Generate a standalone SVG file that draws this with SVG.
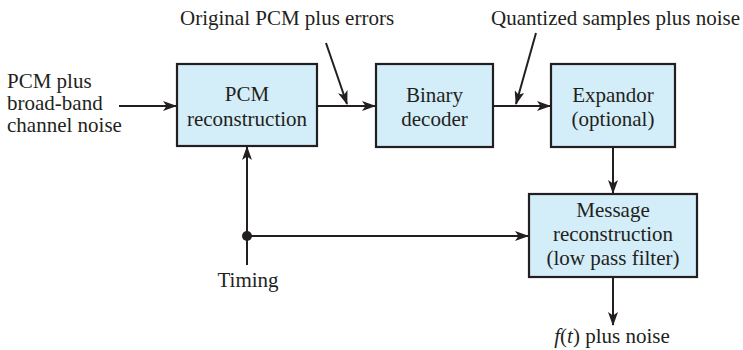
<svg xmlns="http://www.w3.org/2000/svg" width="743" height="350" viewBox="0 0 743 350">
<style>
text{font-family:"Liberation Serif","Times New Roman",serif;font-size:21px;fill:#231f20}
.box{fill:#d3edf9;stroke:#231f20;stroke-width:2.2}
.c{text-anchor:middle}
.ln{stroke:#231f20;stroke-width:2;fill:none}
</style>
<defs>
<marker id="ah" viewBox="0 0 14 10" refX="13" refY="5" markerWidth="14" markerHeight="10" markerUnits="userSpaceOnUse" orient="auto">
<path d="M0,0 L14,5 L0,10 L3.5,5 Z" fill="#231f20"/>
</marker>
</defs>
<rect width="743" height="350" fill="#fff"/>
<g id="labels">
<text x="7" y="88">PCM plus</text>
<text x="7" y="110">broad-band</text>
<text x="7" y="132">channel noise</text>
<text x="180" y="25">Original PCM plus errors</text>
<text x="491" y="25">Quantized samples plus noise</text>
<text class="c" x="248" y="287">Timing</text>
<text class="c" x="612" y="343"><tspan font-style="italic">f</tspan>(<tspan font-style="italic">t</tspan>) plus noise</text>
</g>
<g id="pcm">
<rect class="box" x="177" y="64" width="140" height="82"/>
<text class="c" x="247" y="101">PCM</text>
<text class="c" x="247" y="126">reconstruction</text>
</g>
<g id="binary">
<rect class="box" x="376" y="64" width="117" height="83"/>
<text class="c" x="434.5" y="102">Binary</text>
<text class="c" x="434.5" y="126">decoder</text>
</g>
<g id="expandor">
<rect class="box" x="551" y="64" width="124" height="83"/>
<text class="c" x="613" y="102">Expandor</text>
<text class="c" x="613" y="126">(optional)</text>
</g>
<g id="message">
<rect class="box" x="529" y="194" width="168" height="83"/>
<text class="c" x="613" y="217">Message</text>
<text class="c" x="613" y="241">reconstruction</text>
<text class="c" x="613" y="265">(low pass filter)</text>
</g>
<g id="connectors">
<line class="ln" x1="119" y1="106" x2="176" y2="106" marker-end="url(#ah)"/>
<line class="ln" x1="317" y1="106" x2="375" y2="106" marker-end="url(#ah)"/>
<line class="ln" x1="493" y1="106" x2="550" y2="106" marker-end="url(#ah)"/>
<line class="ln" x1="326" y1="43" x2="347" y2="104" marker-end="url(#ah)"/>
<line class="ln" x1="536" y1="33" x2="516" y2="104" marker-end="url(#ah)"/>
<line class="ln" x1="613" y1="147" x2="613" y2="193" marker-end="url(#ah)"/>
<line class="ln" x1="613" y1="277" x2="613" y2="325" marker-end="url(#ah)"/>
<line class="ln" x1="247" y1="265" x2="247" y2="147" marker-end="url(#ah)"/>
<line class="ln" x1="247" y1="236" x2="528" y2="236" marker-end="url(#ah)"/>
<circle cx="247" cy="236" r="5" fill="#231f20"/>
</g>
</svg>
